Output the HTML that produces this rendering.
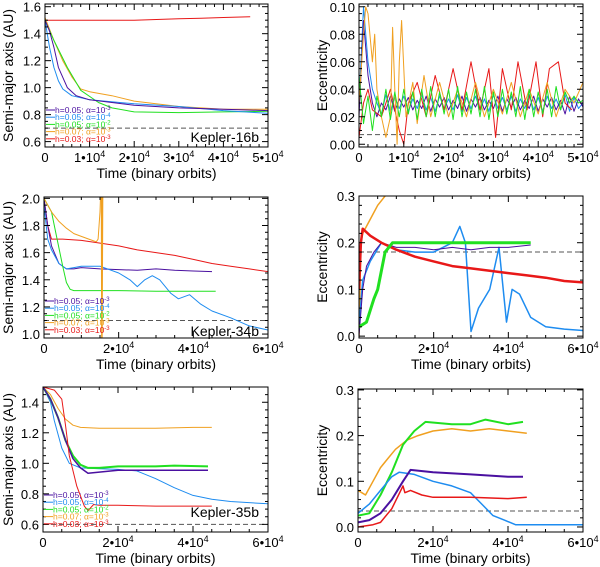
<!DOCTYPE html>
<html><head><meta charset="utf-8"><style>
html,body{margin:0;padding:0;background:#fff;}
svg{display:block;font-family:"Liberation Sans",Arial,sans-serif;}
</style></head><body>
<svg id="fig" width="600" height="567" viewBox="0 0 600 567" xmlns="http://www.w3.org/2000/svg"></svg>
<script>
// x values in units of 1e4 binary orbits
const p1Red=[[0,1.5],[1,1.5],[2,1.5],[3,1.51],[3.5,1.515],[4,1.52],[4.6,1.525]];
const p1Purple=[[0,1.5],[0.1,1.42],[0.2,1.3],[0.3,1.15],[0.5,1.0],[0.7,0.94],[1,0.91],[1.5,0.89],[2,0.87],[3,0.85],[4,0.84],[5,0.83]];
const p1Blue=[[0,1.5],[0.1,1.3],[0.2,1.15],[0.3,1.05],[0.4,0.99],[0.6,0.94],[1,0.91],[2,0.88],[3,0.86],[4,0.83],[5,0.81]];
const p1Green=[[0,1.5],[0.2,1.35],[0.5,1.15],[0.8,0.98],[1.2,0.89],[1.5,0.85],[2,0.82],[3,0.815],[4,0.82],[5,0.825]];
const p1Orange=[[0,1.52],[0.2,1.35],[0.4,1.2],[0.6,1.08],[0.8,0.99],[1,0.97],[1.5,0.94],[2,0.9],[3,0.86],[4,0.84],[5,0.84]];

const p2Red=[[0,0.005],[0.1,0.03],[0.2,0.04],[0.3,0.025],[0.5,0.02],[0.7,0.04],[0.9,0.01],[1.0,0.0],[1.1,0.03],[1.3,0.045],[1.5,0.02],[1.7,0.05],[1.9,0.025],[2.1,0.055],[2.3,0.025],[2.5,0.06],[2.7,0.025],[2.9,0.055],[3.05,0.005],[3.2,0.055],[3.4,0.025],[3.55,0.06],[3.75,0.025],[3.95,0.06],[4.1,0.02],[4.25,0.055],[4.45,0.06],[4.6,0.03],[4.75,0.025]];
const p2Orange=[[0,0.03],[0.1,0.08],[0.15,0.1],[0.2,0.095],[0.3,0.06],[0.35,0.08],[0.4,0.04],[0.5,0.02],[0.6,0.005],[0.7,0.02],[0.75,0.085],[0.8,0.04],[0.85,0.0],[0.9,0.06],[0.95,0.09],[1.05,0.02],[1.2,0.045],[1.3,0.015],[1.45,0.05],[1.6,0.02],[1.8,0.045],[2.0,0.02],[2.2,0.04],[2.4,0.02],[2.6,0.045],[2.8,0.02],[3.0,0.04],[3.2,0.022],[3.4,0.045],[3.6,0.02],[3.8,0.04],[4.0,0.022],[4.2,0.045],[4.4,0.02],[4.6,0.04],[4.8,0.03],[5.0,0.045]];
const p2BlueY=[0.03,0.1,0.06,0.04,0.03,0.022,0.036,0.024,0.034,0.026,0.035,0.024,0.033,0.026,0.036,0.025,0.034,0.024,0.035,0.026,0.033,0.025,0.036,0.024,0.034,0.026,0.035,0.025,0.033,0.024,0.036,0.026,0.034,0.025,0.035,0.024,0.033,0.026,0.036,0.025,0.034,0.024,0.035,0.026,0.033,0.025,0.036,0.024,0.034,0.026,0.03];
const p2PurpleY=[0.02,0.09,0.05,0.03,0.02,0.03,0.025,0.035,0.024,0.033,0.027,0.034,0.025,0.032,0.026,0.035,0.024,0.033,0.027,0.034,0.025,0.032,0.026,0.035,0.024,0.033,0.027,0.034,0.025,0.032,0.026,0.035,0.024,0.033,0.027,0.034,0.025,0.032,0.026,0.035,0.024,0.033,0.027,0.034,0.025,0.032,0.022,0.035,0.024,0.033,0.027];
const p2GreenY=[0.05,0.015,0.035,0.01,0.035,0.02,0.04,0.018,0.038,0.02,0.04,0.022,0.038,0.018,0.04,0.02,0.042,0.02,0.038,0.022,0.04,0.018,0.042,0.02,0.038,0.022,0.04,0.02,0.042,0.018,0.038,0.02,0.04,0.022,0.038,0.02,0.042,0.018,0.04,0.02,0.038,0.022,0.04,0.02,0.042,0.025,0.038,0.03,0.035,0.03,0.032];

const p3Red=[[0,2.0],[0.1,1.8],[0.2,1.7],[0.5,1.7],[1,1.69],[1.5,1.67],[2,1.65],[2.5,1.62],[3,1.6],[3.5,1.58],[4,1.55],[4.5,1.52],[5,1.5],[5.5,1.48],[6,1.46]];
const p3Purple=[[0,2.0],[0.1,1.8],[0.2,1.65],[0.4,1.52],[0.6,1.48],[0.8,1.48],[1,1.49],[1.5,1.48],[2,1.475],[2.5,1.47],[3,1.48],[3.5,1.47],[4,1.465],[4.5,1.46]];
const p3Blue=[[0,1.95],[0.1,1.7],[0.2,1.62],[0.4,1.52],[0.6,1.48],[0.8,1.49],[1,1.5],[1.5,1.5],[2,1.45],[2.3,1.4],[2.5,1.35],[2.7,1.4],[2.9,1.43],[3.1,1.4],[3.4,1.3],[3.6,1.26],[3.9,1.29],[4.2,1.22],[4.5,1.17],[5,1.12],[5.5,1.06],[6,1.03]];
const p3Green=[[0,2.0],[0.2,1.9],[0.35,1.7],[0.5,1.5],[0.6,1.38],[0.7,1.33],[0.8,1.32],[2,1.32],[3,1.315],[4,1.315],[4.6,1.315]];
const p3Orange=[[0,2.0],[0.2,1.9],[0.4,1.83],[0.6,1.78],[0.8,1.74],[1.0,1.72],[1.2,1.7],[1.4,1.68],[1.45,1.7],[1.5,1.9],[1.52,2.05]];
const p3OrangeSpike=[[1.54,2.05],[1.55,0.95],[1.57,2.05]];

const p4Orange=[[0,0],[0.05,0.2],[0.1,0.22],[0.3,0.25],[0.5,0.28],[0.7,0.3],[0.8,0.31]];
const p4Red=[[0,0.1],[0.05,0.2],[0.1,0.23],[0.3,0.215],[0.6,0.2],[1,0.185],[1.5,0.17],[2,0.16],[2.5,0.15],[3,0.145],[3.5,0.14],[4,0.135],[4.5,0.13],[5,0.125],[5.5,0.118],[6,0.115]];
const p4Purple=[[0,0],[0.1,0.1],[0.2,0.15],[0.4,0.18],[0.6,0.2],[1,0.19],[1.5,0.19],[2,0.185],[2.5,0.19],[3,0.185],[3.5,0.19],[4,0.19],[4.6,0.195]];
const p4Blue=[[0,0.02],[0.1,0.12],[0.3,0.16],[0.6,0.2],[1,0.185],[1.5,0.18],[2,0.18],[2.5,0.2],[2.7,0.235],[2.85,0.2],[3.0,0.01],[3.2,0.06],[3.5,0.1],[3.75,0.19],[3.95,0.03],[4.1,0.1],[4.3,0.09],[4.6,0.04],[5,0.02],[5.5,0.015],[6,0.012]];
const p4Green=[[0,0.02],[0.2,0.03],[0.4,0.08],[0.5,0.1],[0.7,0.18],[0.9,0.2],[1.5,0.2],[2,0.2],[3,0.2],[4,0.2],[4.6,0.2]];

const p5Red=[[0,1.5],[0.3,1.48],[0.5,1.42],[0.6,1.25],[0.7,1.05],[0.9,0.85],[1.1,0.72],[1.2,0.69],[1.35,0.73],[1.5,0.725],[2,0.725],[3,0.72],[4,0.72],[4.5,0.72]];
const p5Orange=[[0,1.5],[0.2,1.45],[0.4,1.36],[0.6,1.29],[0.8,1.25],[1,1.235],[1.5,1.23],[2,1.23],[3,1.23],[4,1.235],[4.5,1.235]];
const p5Green=[[0,1.5],[0.2,1.42],[0.4,1.3],[0.6,1.15],[0.8,1.05],[1,0.99],[1.2,0.97],[1.5,0.97],[2,0.98],[3,0.98],[3.5,0.985],[4.4,0.98]];
const p5Purple=[[0,1.5],[0.2,1.42],[0.4,1.3],[0.6,1.15],[0.8,1.03],[1,0.97],[1.2,0.935],[1.4,0.94],[2,0.955],[3,0.955],[4.4,0.955]];
const p5Blue=[[0,1.5],[0.2,1.4],[0.3,1.28],[0.5,1.1],[0.7,1.0],[1,0.97],[1.5,0.965],[2,0.96],[2.5,0.95],[3,0.9],[3.5,0.84],[4,0.79],[4.5,0.765],[5,0.75],[6,0.735]];

const p6Green=[[0,0.025],[0.3,0.03],[0.6,0.07],[0.9,0.12],[1.2,0.18],[1.5,0.21],[1.8,0.23],[2.5,0.225],[3,0.225],[3.4,0.235],[4,0.225],[4.4,0.23]];
const p6Orange=[[0,0.08],[0.1,0.075],[0.2,0.07],[0.4,0.1],[0.6,0.13],[0.8,0.15],[1,0.17],[1.3,0.19],[1.6,0.2],[2,0.21],[2.5,0.215],[3,0.21],[3.5,0.215],[4,0.21],[4.5,0.205]];
const p6Purple=[[0,0.01],[0.3,0.015],[0.6,0.03],[0.9,0.06],[1.2,0.1],[1.4,0.125],[2,0.12],[3,0.115],[4,0.11],[4.4,0.11]];
const p6Blue=[[0,0.03],[0.3,0.05],[0.6,0.08],[0.9,0.11],[1.1,0.12],[1.5,0.115],[2,0.1],[2.5,0.09],[3,0.075],[3.3,0.05],[3.6,0.025],[3.9,0.015],[4.2,0.005],[5,0.005],[6,0.005]];
const p6Red=[[0,0],[0.4,0.005],[0.6,0.01],[0.9,0.04],[1.2,0.09],[1.25,0.075],[1.4,0.08],[1.7,0.07],[2,0.065],[3,0.065],[4,0.062],[4.5,0.065]];

const legendLabels=[["h=0.05; α=10","-3"],["h=0.05; α=10","-4"],["h=0.05; α=10","-2"],["h=0.07; α=10","-3"],["h=0.03; α=10","-3"]];
const C={purple:"#4a10a0",blue:"#1e8cf0",green:"#20e020",orange:"#f0a020",red:"#e81818"};
const legendColors=[C.purple,C.blue,C.green,C.orange,C.red];

const NS="http://www.w3.org/2000/svg";
const svg=document.getElementById('fig');
function mk(tag,attrs,parent){const e=document.createElementNS(NS,tag);for(const k in attrs)e.setAttribute(k,attrs[k]);(parent||svg).appendChild(e);return e;}

function panel(o){
  const g=mk('g',{});
  
  
  const sx=v=>o.x0+(v-o.xr[0])/(o.xr[1]-o.xr[0])*(o.x1-o.x0);
  const sy=v=>o.y1-(v-o.yr[0])/(o.yr[1]-o.yr[0])*(o.y1-o.y0);
  const cp=mk('clipPath',{id:'c'+o.name},g);
  mk('rect',{x:o.x0,y:o.y0,width:o.x1-o.x0,height:o.y1-o.y0},cp);
  const plot=mk('g',{'clip-path':'url(#c'+o.name+')'},g);
  if(o.dash!==undefined){
    const d=mk('line',{x1:o.x0,x2:o.x1,y1:sy(o.dash),y2:sy(o.dash),stroke:'#555','stroke-width':1,'stroke-dasharray':'5,3'},plot);
    
    
  }
  o.series.forEach(s=>{
    const pts=s.data.map(p=>sx(p[0]).toFixed(1)+','+sy(p[1]).toFixed(1)).join(' ');
    const l=mk('polyline',{points:pts,fill:'none',stroke:s.c,'stroke-width':s.w||1,'stroke-linejoin':'round'},plot);
    
    
  });
  // frame
  const fr=mk('rect',{x:o.x0,y:o.y0,width:o.x1-o.x0,height:o.y1-o.y0,fill:'none',stroke:'#000','stroke-width':1},g);
  
  
  // x ticks
  for(let v=o.xr[0];v<=o.xr[1]+1e-9;v+=o.xminor){
    const X=sx(v),len=(Math.abs(v/o.xmajor-Math.round(v/o.xmajor))<1e-6)?6:3;
    mk('line',{x1:X,x2:X,y1:o.y1,y2:o.y1-len,stroke:'#000'},g);
    mk('line',{x1:X,x2:X,y1:o.y0,y2:o.y0+len,stroke:'#000'},g);
  }
  o.xlabels.forEach(v=>{
    const t=mk('text',{x:sx(v),y:o.y1+15,'text-anchor':'middle','font-size':13},g);
    
    
    if(v===0){t.textContent='0';}
    else{t.appendChild(document.createTextNode(v+'•10'));const sp=mk('tspan',{dy:-5,'font-size':9},t);sp.textContent='4';}
  });
  // y ticks
  const nmin=Math.round((o.yr[1]-o.yr[0])/o.yminor)+2;
  const start=Math.ceil(o.yr[0]/o.yminor-1e-6)*o.yminor;
  for(let i=0;i<nmin;i++){
    const v=start+i*o.yminor; if(v>o.yr[1]+1e-9)break;
    const Y=sy(v),len=(Math.abs(v/o.ymajor-Math.round(v/o.ymajor))<1e-6)?6:3;
    mk('line',{x1:o.x0,x2:o.x0+len,y1:Y,y2:Y,stroke:'#000'},g);
    mk('line',{x1:o.x1,x2:o.x1-len,y1:Y,y2:Y,stroke:'#000'},g);
  }
  o.ylabels.forEach(v=>{
    const t=mk('text',{x:o.x0-4,y:sy(v)+5,'text-anchor':'end','font-size':13},g);
    
    
    t.textContent=v.toFixed(o.ydec);
  });
  const xt=mk('text',{x:(o.x0+o.x1)/2,y:o.y1+31,'text-anchor':'middle','font-size':14},g);
  
  
  xt.textContent='Time (binary orbits)';
  const yc=(o.y0+o.y1)/2, yx=o.ytx;
  const yt=mk('text',{x:yx,y:yc,'text-anchor':'middle','font-size':14,transform:'rotate(-90 '+yx+' '+yc+')'},g);
  
  
  yt.textContent=o.ytitle;
  if(o.legend){
    legendLabels.forEach((lb,i)=>{
      const Y=o.y1-37+i*7.2;
      const lg=mk('g',{},g);
      
      
      mk('line',{x1:o.x0+1,x2:o.x0+10,y1:Y,y2:Y,stroke:legendColors[i]},lg);
      const t=mk('text',{x:o.x0+10,y:Y+3,'font-size':8.5,fill:legendColors[i]},lg);
      t.appendChild(document.createTextNode(lb[0]));
      const sp=mk('tspan',{dy:-3,'font-size':6},t);sp.textContent=lb[1];
    });
  }
  if(o.kepler){
    const k=mk('text',{x:o.x1-9,y:o.kepY,'text-anchor':'end','font-size':14},g);
    
    
    k.textContent=o.kepler;
  }
}
function fromY(ys,step){return ys.map((y,i)=>[i*step,y]);}

panel({name:'panel-kepler16-semimajor',x0:45,x1:268,y0:4,y1:147,xr:[0,5],yr:[0.56,1.62],xminor:0.2,xmajor:1,xlabels:[0,1,2,3,4,5],yminor:0.05,ymajor:0.2,ylabels:[0.6,0.8,1.0,1.2,1.4,1.6],ydec:1,ytx:13,ytitle:'Semi-major axis (AU)',legend:true,kepler:'Kepler-16b',kepY:142,dash:0.7,
 series:[{n:'red-h003',c:C.red,data:p1Red},{n:'orange-h007',c:C.orange,data:p1Orange},{n:'green-h005-a2',c:C.green,data:p1Green},{n:'blue-h005-a4',c:C.blue,data:p1Blue},{n:'purple-h005-a3',c:C.purple,data:p1Purple}]});
panel({name:'panel-kepler16-ecc',x0:359,x1:583,y0:4,y1:147,xr:[0,5],yr:[-0.002,0.102],xminor:0.2,xmajor:1,xlabels:[0,1,2,3,4,5],yminor:0.005,ymajor:0.02,ylabels:[0,0.02,0.04,0.06,0.08,0.1],ydec:2,ytx:327,ytitle:'Eccentricity',dash:0.007,
 series:[{n:'blue-h005-a4',c:C.blue,data:fromY(p2BlueY,0.1)},{n:'purple-h005-a3',c:C.purple,data:fromY(p2PurpleY,0.1)},{n:'red-h003',c:C.red,data:p2Red},{n:'orange-h007',c:C.orange,data:p2Orange},{n:'green-h005-a2',c:C.green,data:fromY(p2GreenY,0.1)}]});
panel({name:'panel-kepler34-semimajor',x0:44,x1:268,y0:197,y1:338,xr:[0,6],yr:[0.971,2.01],xminor:0.5,xmajor:2,xlabels:[0,2,4,6],yminor:0.05,ymajor:0.2,ylabels:[1.0,1.2,1.4,1.6,1.8,2.0],ydec:1,ytx:13,ytitle:'Semi-major axis (AU)',legend:true,kepler:'Kepler-34b',kepY:336,dash:1.1,
 series:[{n:'red-h003',c:C.red,data:p3Red},{n:'purple-h005-a3',c:C.purple,data:p3Purple},{n:'blue-h005-a4',c:C.blue,data:p3Blue},{n:'green-h005-a2',c:C.green,data:p3Green},{n:'orange-h007',c:C.orange,data:p3Orange},{n:'orange-spike',c:C.orange,w:1.5,data:p3OrangeSpike}]});
panel({name:'panel-kepler34-ecc',x0:359,x1:583,y0:196,y1:338,xr:[0,6],yr:[-0.004,0.3],xminor:0.5,xmajor:2,xlabels:[0,2,4,6],yminor:0.02,ymajor:0.1,ylabels:[0,0.1,0.2,0.3],ydec:1,ytx:327,ytitle:'Eccentricity',dash:0.18,
 series:[{n:'orange-h007',c:C.orange,w:1.5,data:p4Orange},{n:'blue-h005-a4',c:C.blue,w:1.5,data:p4Blue},{n:'purple-h005-a3',c:C.purple,data:p4Purple},{n:'red-h003',c:C.red,w:2.5,data:p4Red},{n:'green-h005-a2',c:C.green,w:3,data:p4Green}]});
panel({name:'panel-kepler35-semimajor',x0:43,x1:268,y0:387,y1:532,xr:[0,6],yr:[0.55,1.5],xminor:0.5,xmajor:2,xlabels:[0,2,4,6],yminor:0.05,ymajor:0.2,ylabels:[0.6,0.8,1.0,1.2,1.4],ydec:1,ytx:13,ytitle:'Semi-major axis (AU)',legend:true,kepler:'Kepler-35b',kepY:517,dash:0.6,
 series:[{n:'orange-h007',c:C.orange,data:p5Orange},{n:'blue-h005-a4',c:C.blue,data:p5Blue},{n:'green-h005-a2',c:C.green,w:2,data:p5Green},{n:'purple-h005-a3',c:C.purple,w:1.5,data:p5Purple},{n:'red-h003',c:C.red,data:p5Red}]});
panel({name:'panel-kepler35-ecc',x0:358,x1:583,y0:389,y1:532,xr:[0,6],yr:[-0.011,0.302],xminor:0.5,xmajor:2,xlabels:[0,2,4,6],yminor:0.02,ymajor:0.1,ylabels:[0,0.1,0.2,0.3],ydec:1,ytx:327,ytitle:'Eccentricity',dash:0.035,
 series:[{n:'orange-h007',c:C.orange,w:1.5,data:p6Orange},{n:'green-h005-a2',c:C.green,w:2,data:p6Green},{n:'blue-h005-a4',c:C.blue,w:1.5,data:p6Blue},{n:'purple-h005-a3',c:C.purple,w:2,data:p6Purple},{n:'red-h003',c:C.red,w:1.5,data:p6Red}]});
</script>
</body></html>
